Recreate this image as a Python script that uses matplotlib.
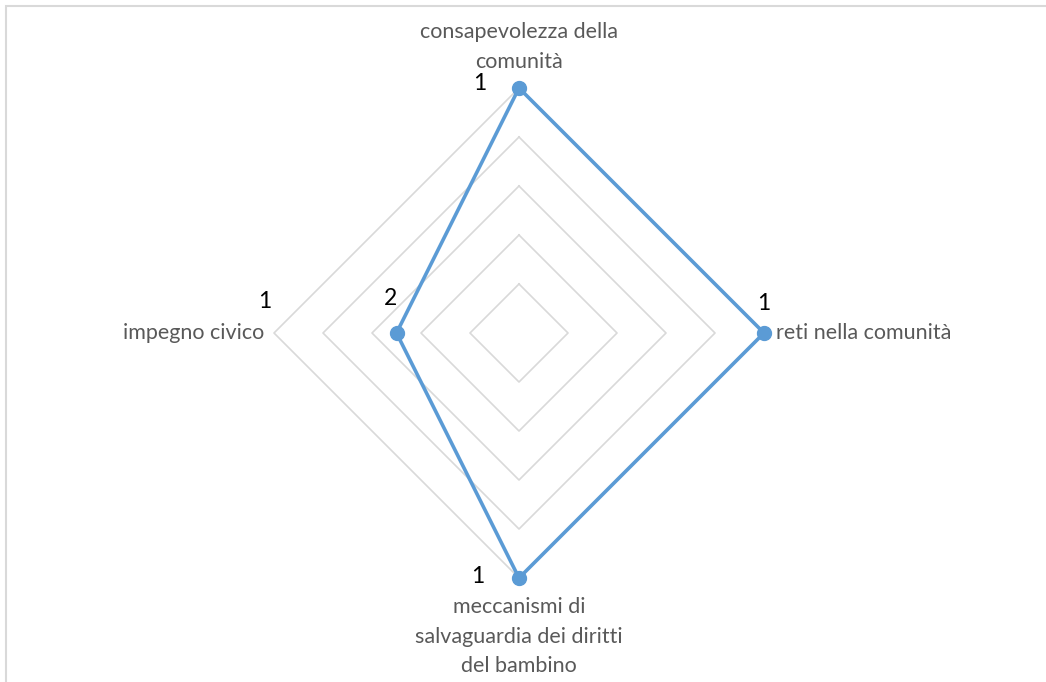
import numpy as np
import matplotlib.pyplot as plt
from matplotlib.patches import Rectangle

# categories clockwise from the top
categories = ['consapevolezza della\ncomunità', 'reti nella comunità',
              'meccanismi di\nsalvaguardia dei diritti\ndel bambino', 'impegno civico']
values = [1, 1, 1, 2]
# the axis is reversed: 1 sits on the outer ring, 3 in the centre
axis_outer = 1
axis_centre = 3
n_rings = 5
# extra data label shown on the outer ring of "impegno civico"
extra_label_axis = 3
extra_label_value = 1

blue = '#5B9BD5'
grid_col = '#D9D9D9'
text_col = '#595959'
plt.rcParams['font.family'] = ['Lato', 'DejaVu Sans']

fig = plt.figure(figsize=(10.46, 6.82), dpi=100)
fig.patches.append(Rectangle((6 / 1046, -0.01), 1.02, 1 - 6 / 682 + 0.01, transform=fig.transFigure,
                             fill=False, edgecolor=grid_col, linewidth=1.5))
ax = fig.add_axes([0, 0, 1, 1])
R = 245.0
ax.set_xlim(-519 / R, (1046 - 519) / R)
ax.set_ylim(-(682 - 333) / R, 333 / R)
ax.set_aspect('equal')
ax.axis('off')

n = len(categories)
angles = np.pi / 2 - 2 * np.pi * np.arange(n) / n


def radius(v):
    return (axis_centre - v) / (axis_centre - axis_outer)


# grid rings
for k in range(1, n_rings + 1):
    r = k / n_rings
    gx = np.append(r * np.cos(angles), r * np.cos(angles[0]))
    gy = np.append(r * np.sin(angles), r * np.sin(angles[0]))
    ax.plot(gx, gy, color=grid_col, lw=1.2, zorder=1)

# series
rv = np.array([radius(v) for v in values])
px = rv * np.cos(angles)
py = rv * np.sin(angles)
ax.plot(np.append(px, px[0]), np.append(py, py[0]), color=blue, lw=2.6, zorder=3)
ax.plot(px, py, 'o', color=blue, ms=10, zorder=4)

# data labels
offsets = [(-28, 3), (0, 21), (-30, 1), (-4, 25)]
for i, v in enumerate(values):
    ax.annotate(str(v), (px[i], py[i]), xytext=offsets[i], textcoords='offset points',
                ha='center', va='center', fontsize=16.5, color='black')
re = radius(extra_label_value)
ax.annotate(str(extra_label_value), (re * np.cos(angles[extra_label_axis]), re * np.sin(angles[extra_label_axis])),
            xytext=(-7, 23), textcoords='offset points', ha='center', va='center', fontsize=16.5, color='black')

# category labels
ax.text(0, 1 + 16 / R, categories[0], ha='center', va='bottom', fontsize=15.5, color=text_col, linespacing=1.6)
ax.text(1 + 12 / R, 0, categories[1], ha='left', va='center', fontsize=15.5, color=text_col)
ax.text(0, -1 - 19 / R, categories[2], ha='center', va='top', fontsize=15.5, color=text_col, linespacing=1.6)
ax.text(-1 - 10 / R, 0, categories[3], ha='right', va='center', fontsize=15.5, color=text_col)

fig.savefig('out.png', dpi=100)
